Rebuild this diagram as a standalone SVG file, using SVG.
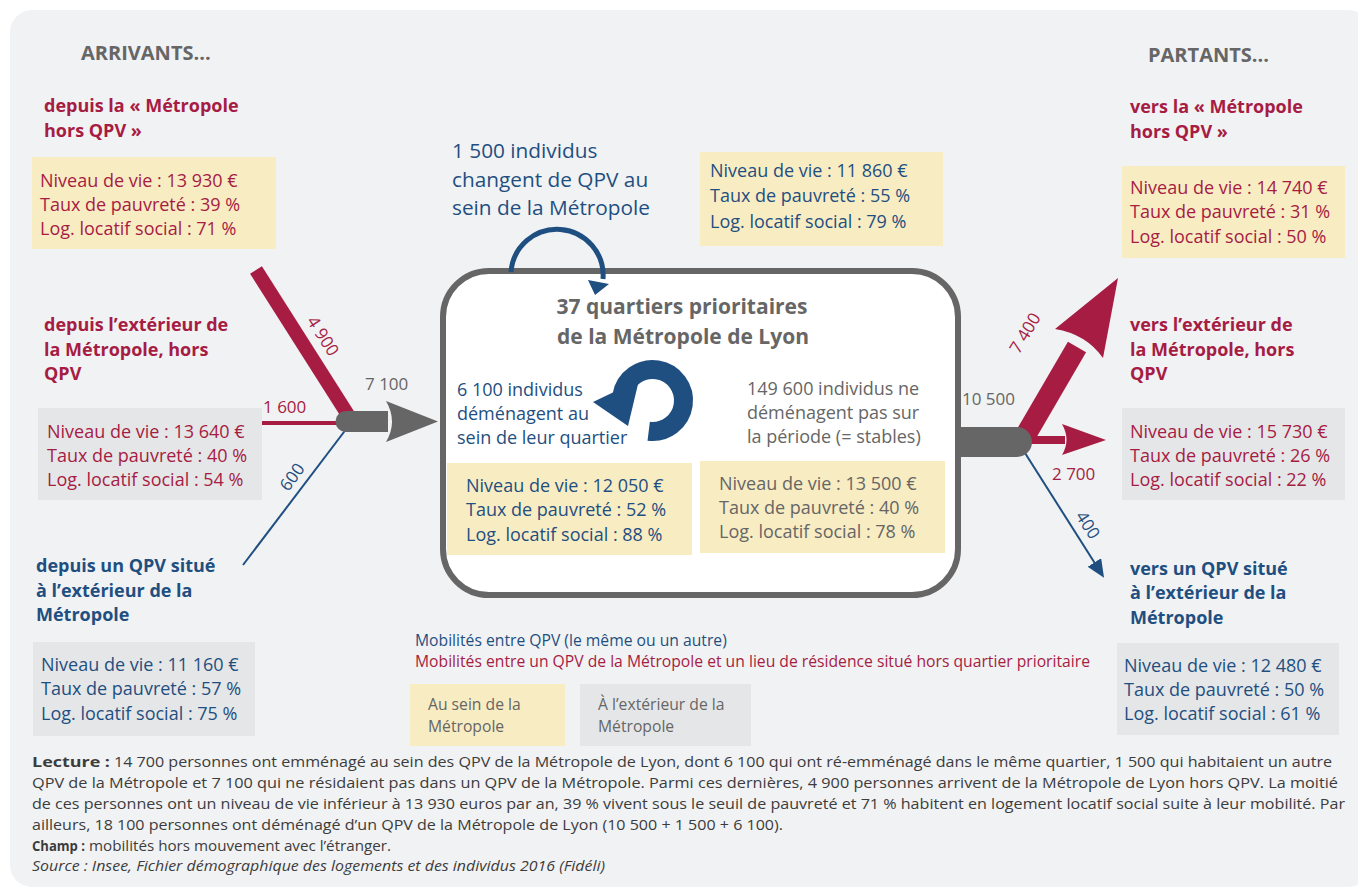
<svg xmlns="http://www.w3.org/2000/svg" width="1358" height="890" viewBox="0 0 1358 890">
<defs>
<style>
text{font-family:"Open Sans","Noto Sans",sans-serif}
.red{fill:#a61c43}
.blue{fill:#1f4f80}
.gray{fill:#666666}
.hd{font-weight:700;font-size:18px}
.st{font-size:18px}
.lbl{font-size:17px}
.yb{fill:#f8ecc3}
.gb{fill:#e5e6e8}
.ft{font-size:15px;fill:#3c3c3c}
.lg{font-size:15.7px}
</style>
<marker id="ab" viewBox="0 0 18 16" refX="3" refY="8" markerWidth="18" markerHeight="16" markerUnits="userSpaceOnUse" orient="auto">
<path d="M0,0 L18,8 L0,16 Z" fill="#1f4f80"/>
</marker>
</defs>
<rect x="0" y="0" width="1358" height="890" fill="#ffffff"/>
<rect x="10" y="10" width="1360" height="877" rx="22" fill="#f1f2f4"/>

<g id="headers">
<text x="81" y="60" class="gray" font-weight="700" font-size="20">ARRIVANTS...</text>
<text x="1148" y="62" class="gray" font-weight="700" font-size="20">PARTANTS...</text>
</g>

<g id="src-metro">
<text class="hd red" x="44" y="112">depuis la « Métropole</text>
<text class="hd red" x="44" y="137">hors QPV »</text>
<rect class="yb" x="32" y="157" width="244" height="92"/>
<text class="st red" x="40" y="187">Niveau de vie : 13 930 €</text>
<text class="st red" x="40" y="211">Taux de pauvreté : 39 %</text>
<text class="st red" x="40" y="235">Log. locatif social : 71 %</text>
</g>

<g id="src-ext">
<text class="hd red" x="44" y="331">depuis l’extérieur de</text>
<text class="hd red" x="44" y="356">la Métropole, hors</text>
<text class="hd red" x="44" y="380">QPV</text>
<rect class="gb" x="38" y="408" width="224" height="92"/>
<text class="st red" x="47" y="438">Niveau de vie : 13 640 €</text>
<text class="st red" x="47" y="462">Taux de pauvreté : 40 %</text>
<text class="st red" x="47" y="486">Log. locatif social : 54 %</text>
</g>

<g id="src-qpv">
<text class="hd blue" x="36" y="572">depuis un QPV situé</text>
<text class="hd blue" x="36" y="597">à l’extérieur de la</text>
<text class="hd blue" x="36" y="621">Métropole</text>
<rect class="gb" x="33" y="642" width="222" height="94"/>
<text class="st blue" x="41" y="671">Niveau de vie : 11 160 €</text>
<text class="st blue" x="41" y="695">Taux de pauvreté : 57 %</text>
<text class="st blue" x="41" y="720">Log. locatif social : 75 %</text>
</g>

<g id="intra-metro">
<text class="blue" font-size="20.8" x="452" y="158">1 500 individus</text>
<text class="blue" font-size="20.8" x="452" y="187">changent de QPV au</text>
<text class="blue" font-size="20.8" x="452" y="215">sein de la Métropole</text>
<rect class="yb" x="700" y="152" width="243" height="94"/>
<text class="st blue" x="710" y="177">Niveau de vie : 11 860 €</text>
<text class="st blue" x="710" y="202">Taux de pauvreté : 55 %</text>
<text class="st blue" x="710" y="228">Log. locatif social : 79 %</text>
</g>

<g id="qpv-box">
<rect x="443" y="271" width="515" height="324" rx="46" fill="#ffffff" stroke="#666666" stroke-width="6"/>
<text class="gray" font-weight="700" font-size="21" x="682" y="314" text-anchor="middle">37 quartiers prioritaires</text>
<text class="gray" font-weight="700" font-size="21" x="683" y="344" text-anchor="middle">de la Métropole de Lyon</text>
<text class="blue" font-size="18" x="457" y="396">6 100 individus</text>
<text class="blue" font-size="18" x="457" y="420">déménagent au</text>
<text class="blue" font-size="18" x="457" y="444">sein de leur quartier</text>
<text class="gray" font-size="18" x="747" y="395">149 600 individus ne</text>
<text class="gray" font-size="18" x="747" y="419">déménagent pas sur</text>
<text class="gray" font-size="18" x="747" y="443">la période (= stables)</text>
<rect class="yb" x="447" y="463" width="245" height="92"/>
<text class="st blue" x="466" y="492">Niveau de vie : 12 050 €</text>
<text class="st blue" x="466" y="516">Taux de pauvreté : 52 %</text>
<text class="st blue" x="466" y="541">Log. locatif social : 88 %</text>
<rect class="yb" x="700" y="461" width="245" height="92"/>
<text class="st gray" x="719" y="490">Niveau de vie : 13 500 €</text>
<text class="st gray" x="719" y="514">Taux de pauvreté : 40 %</text>
<text class="st gray" x="719" y="538">Log. locatif social : 78 %</text>
</g>

<g id="dst-metro">
<text class="hd red" x="1130" y="113">vers la « Métropole</text>
<text class="hd red" x="1130" y="138">hors QPV »</text>
<rect class="yb" x="1122" y="166" width="223" height="92"/>
<text class="st red" x="1130" y="194">Niveau de vie : 14 740 €</text>
<text class="st red" x="1130" y="218">Taux de pauvreté : 31 %</text>
<text class="st red" x="1130" y="243">Log. locatif social : 50 %</text>
</g>

<g id="dst-ext">
<text class="hd red" x="1130" y="331">vers l’extérieur de</text>
<text class="hd red" x="1130" y="356">la Métropole, hors</text>
<text class="hd red" x="1130" y="380">QPV</text>
<rect class="gb" x="1122" y="408" width="223" height="92"/>
<text class="st red" x="1130" y="438">Niveau de vie : 15 730 €</text>
<text class="st red" x="1130" y="462">Taux de pauvreté : 26 %</text>
<text class="st red" x="1130" y="486">Log. locatif social : 22 %</text>
</g>

<g id="dst-qpv">
<text class="hd blue" x="1130" y="575">vers un QPV situé</text>
<text class="hd blue" x="1130" y="599">à l’extérieur de la</text>
<text class="hd blue" x="1130" y="624">Métropole</text>
<rect class="gb" x="1117" y="643" width="222" height="92"/>
<text class="st blue" x="1124" y="672">Niveau de vie : 12 480 €</text>
<text class="st blue" x="1124" y="696">Taux de pauvreté : 50 %</text>
<text class="st blue" x="1124" y="720">Log. locatif social : 61 %</text>
</g>

<g id="connectors">
<!-- top arc: change of QPV within Metropole -->
<path d="M511,272 A46,46 0 1 1 603,279" fill="none" stroke="#1f4f80" stroke-width="5"/>
<path d="M588,280 L609,284 L595,295 Z" fill="#1f4f80"/>
<!-- circular arrow inside the box -->
<path d="M648.7,431.3 A31,31 0 1 0 622,395.1" fill="none" stroke="#1f4f80" stroke-width="19"/>
<path d="M593,402 L639,380 L628,426 Z" fill="#1f4f80"/>

<!-- left inflows -->
<line x1="256" y1="270" x2="350" y2="418" stroke="#a61c43" stroke-width="14"/>
<line x1="262" y1="423" x2="345" y2="423" stroke="#a61c43" stroke-width="4"/>
<line x1="243" y1="565" x2="347" y2="428" stroke="#1f4f80" stroke-width="2"/>
<path d="M388,411 H346 A10.5,10.5 0 0 0 346,432 H388 Z" fill="#666666"/>
<path d="M386,401 L438,421.5 L386,442 Q398,421.5 386,401 Z" fill="#666666"/>
<text class="lbl gray" font-size="18" x="365" y="390">7 100</text>
<text class="lbl red" x="263" y="413">1 600</text>
<text class="lbl red" text-anchor="middle" transform="translate(323,336) rotate(57)" y="6">4 900</text>
<text class="lbl blue" text-anchor="middle" transform="translate(292,477) rotate(-54)" y="6">600</text>

<!-- right outflows -->
<line x1="1024" y1="438" x2="1077" y2="347" stroke="#a61c43" stroke-width="21"/>
<path d="M1055,329 L1118,278 L1103,358 Q1086,334 1055,329 Z" fill="#a61c43"/>
<rect x="1030" y="436" width="35" height="8" fill="#a61c43"/>
<path d="M1062,424 L1106,440 L1062,455 Q1071,440 1062,424 Z" fill="#a61c43"/>
<line x1="1025" y1="453" x2="1096" y2="565" stroke="#1f4f80" stroke-width="2" marker-end="url(#ab)"/>
<path d="M960,427 H1017 A15,15 0 0 1 1017,457 H960 Z" fill="#666666"/>
<text class="lbl gray" font-size="19" x="962" y="405">10 500</text>
<text class="lbl red" x="1052" y="480">2 700</text>
<text class="lbl red" text-anchor="middle" transform="translate(1025,333) rotate(-59)" y="6">7 400</text>
<text class="lbl blue" text-anchor="middle" transform="translate(1088,525) rotate(57)" y="6">400</text>
</g>

<g id="legend">
<text class="lg blue" x="415" y="646">Mobilités entre QPV (le même ou un autre)</text>
<text class="lg red" x="415" y="667">Mobilités entre un QPV de la Métropole et un lieu de résidence situé hors quartier prioritaire</text>
<rect class="yb" x="410" y="684" width="155" height="62"/>
<text class="lg gray" x="428" y="710">Au sein de la</text>
<text class="lg gray" x="428" y="732">Métropole</text>
<rect class="gb" x="580" y="684" width="171" height="62"/>
<text class="lg gray" x="598" y="710">À l’extérieur de la</text>
<text class="lg gray" x="598" y="732">Métropole</text>
</g>

<g id="footer">
<text class="ft" x="32" y="767" font-weight="700" textLength="78" lengthAdjust="spacingAndGlyphs">Lecture :</text>
<text class="ft" x="114" y="767" textLength="1218" lengthAdjust="spacingAndGlyphs">14 700 personnes ont emménagé au sein des QPV de la Métropole de Lyon, dont 6 100 qui ont ré-emménagé dans le même quartier, 1 500 qui habitaient un autre</text>
<text class="ft" x="32" y="788" textLength="1306" lengthAdjust="spacingAndGlyphs">QPV de la Métropole et 7 100 qui ne résidaient pas dans un QPV de la Métropole. Parmi ces dernières, 4 900 personnes arrivent de la Métropole de Lyon hors QPV. La moitié</text>
<text class="ft" x="32" y="809" textLength="1313" lengthAdjust="spacingAndGlyphs">de ces personnes ont un niveau de vie inférieur à 13 930 euros par an, 39 % vivent sous le seuil de pauvreté et 71 % habitent en logement locatif social suite à leur mobilité. Par</text>
<text class="ft" x="32" y="830" textLength="751" lengthAdjust="spacingAndGlyphs">ailleurs, 18 100 personnes ont déménagé d’un QPV de la Métropole de Lyon (10 500 + 1 500 + 6 100).</text>
<text class="ft" x="32" y="851" font-weight="700" textLength="53" lengthAdjust="spacingAndGlyphs">Champ :</text>
<text class="ft" x="89" y="851" textLength="302" lengthAdjust="spacingAndGlyphs">mobilités hors mouvement avec l’étranger.</text>
<text class="ft" x="32" y="871" font-style="italic" textLength="573" lengthAdjust="spacingAndGlyphs">Source : Insee, Fichier démographique des logements et des individus 2016 (Fidéli)</text>
</g>
</svg>
